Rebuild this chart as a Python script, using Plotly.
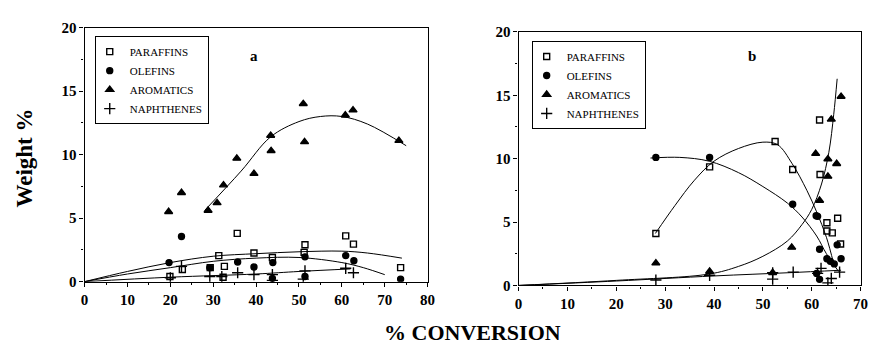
import plotly.graph_objects as go

# ---------------- Panel a data ----------------
a_par_x = [19.9, 22.8, 29.3, 31.3, 32.3, 32.6, 35.6, 39.5, 43.8, 51.2, 51.4, 60.9, 62.7, 73.7]
a_par_y = [0.4, 0.95, 1.1, 2.05, 0.35, 1.2, 3.8, 2.25, 1.9, 2.3, 2.9, 3.6, 2.95, 1.1]
a_ole_x = [19.7, 22.6, 29.2, 35.7, 39.5, 43.8, 43.9, 51.4, 51.4, 60.9, 62.8, 73.7]
a_ole_y = [1.5, 3.55, 1.1, 1.55, 1.15, 0.25, 1.5, 1.95, 0.4, 2.05, 1.65, 0.2]
a_aro_x = [19.6, 22.6, 28.8, 30.9, 32.4, 35.5, 39.5, 43.4, 43.5, 51.0, 51.3, 60.8, 62.6, 73.3]
a_aro_y = [5.5, 7.0, 5.6, 6.2, 7.6, 9.7, 8.5, 11.5, 10.3, 14.0, 11.0, 13.1, 13.5, 11.1]
a_nap_x = [20.0, 22.6, 29.2, 32.0, 35.7, 39.5, 43.8, 43.8, 51.0, 51.4, 60.9, 62.7]
a_nap_y = [0.3, 1.2, 0.4, 0.4, 0.7, 0.55, 0.55, 0.1, 0.2, 0.85, 1.05, 0.7]

a_par_fit_x = [0, 10, 20, 30, 40, 50, 60, 66, 74]
a_par_fit_y = [0, 0.8, 1.5, 2.0, 2.2, 2.35, 2.4, 2.25, 1.85]
a_ole_fit_x = [0, 10, 20, 30, 40, 50, 60, 65, 70]
a_ole_fit_y = [0, 0.6, 1.1, 1.6, 1.85, 1.9, 1.5, 1.1, 0.55]
a_aro_fit_x = [28, 36.5, 43.4, 50, 55, 60, 66, 75]
a_aro_fit_y = [5.6, 8.7, 11.4, 12.6, 13.0, 13.0, 12.4, 10.7]
a_nap_fit_x = [0, 20, 40, 50, 62]
a_nap_fit_y = [0, 0.35, 0.6, 0.8, 1.0]

# ---------------- Panel b data ----------------
b_par_x = [28.1, 39.1, 52.5, 56.1, 61.6, 61.7, 63.1, 63.1, 64.2, 65.3, 65.9]
b_par_y = [4.1, 9.35, 11.35, 9.15, 13.05, 8.75, 4.95, 4.3, 4.15, 5.3, 3.27]
b_ole_x = [28.1, 39.1, 56.1, 60.9, 61.2, 61.6, 61.0, 61.6, 63.1, 63.8, 64.6, 65.2, 66.0]
b_ole_y = [10.1, 10.1, 6.4, 5.5, 5.45, 2.85, 0.95, 0.48, 2.1, 1.9, 1.7, 3.2, 2.1]
b_aro_x = [28.1, 39.1, 52.0, 55.9, 60.8, 61.6, 63.3, 63.3, 64.0, 65.1, 66.0]
b_aro_y = [1.76, 1.1, 1.0, 3.0, 10.4, 6.7, 8.6, 9.97, 13.1, 9.6, 14.9]
b_nap_x = [28.1, 39.1, 52.0, 52.0, 56.2, 61.2, 61.9, 63.3, 64.0, 65.7]
b_nap_y = [0.43, 0.8, 1.0, 0.5, 1.05, 0.95, 1.35, 0.2, 0.55, 1.05]

b_par_fit_x = [28, 32, 36, 40, 45, 50, 53, 56, 59, 61, 63, 64.5]
b_par_fit_y = [4.1, 6.3, 8.3, 9.8, 10.8, 11.3, 11.1, 9.6, 7.5, 5.8, 3.8, 1.7]
b_ole_fit_x = [27, 33, 39, 45, 50, 55, 58, 61, 63, 65.5]
b_ole_fit_y = [10.05, 10.1, 9.8, 8.9, 7.8, 6.5, 5.4, 3.9, 2.5, 1.1]
b_aro_fit_x = [0, 20, 39, 45, 50, 55, 58, 60, 62, 63.5, 64.5, 65.2]
b_aro_fit_y = [0, 0.4, 0.9, 1.5, 2.3, 3.5, 4.8, 6.0, 8.0, 10.5, 13.5, 16.3]
b_nap_fit_x = [0, 20, 40, 55, 66]
b_nap_fit_y = [0, 0.35, 0.75, 1.0, 1.2]

names = ["PARAFFINS", "OLEFINS", "AROMATICS", "NAPHTHENES"]
y_ticks = [0, 5, 10, 15, 20]
a_x_ticks = [0, 10, 20, 30, 40, 50, 60, 70, 80]
b_x_ticks = [0, 10, 20, 30, 40, 50, 60, 70]

symbols = ["square-open", "circle", "triangle-up", "cross-thin-open"]
sizes = [6, 6, 7, 8]
FONT = "Liberation Serif"

fig = go.Figure()

def add_panel(xa, ya, legend, pts, fits):
    for i, (px, py) in enumerate(pts):
        fig.add_trace(go.Scatter(
            x=px, y=py, mode="markers", name=names[i],
            marker=dict(symbol=symbols[i], size=sizes[i], color="black",
                        line=dict(color="black", width=1.4)),
            xaxis=xa, yaxis=ya, legend=legend, showlegend=True))
    for fx, fy in fits:
        fig.add_trace(go.Scatter(
            x=fx, y=fy, mode="lines", line=dict(color="black", width=1, shape="spline"),
            xaxis=xa, yaxis=ya, showlegend=False, hoverinfo="skip"))

add_panel("x", "y", "legend",
          [(a_par_x, a_par_y), (a_ole_x, a_ole_y), (a_aro_x, a_aro_y), (a_nap_x, a_nap_y)],
          [(a_par_fit_x, a_par_fit_y), (a_ole_fit_x, a_ole_fit_y),
           (a_aro_fit_x, a_aro_fit_y), (a_nap_fit_x, a_nap_fit_y)])
add_panel("x2", "y2", "legend2",
          [(b_par_x, b_par_y), (b_ole_x, b_ole_y), (b_aro_x, b_aro_y), (b_nap_x, b_nap_y)],
          [(b_par_fit_x, b_par_fit_y), (b_ole_fit_x, b_ole_fit_y),
           (b_aro_fit_x, b_aro_fit_y), (b_nap_fit_x, b_nap_fit_y)])

W, H = 877, 351
tickfont = dict(family=FONT, size=15, color="black")

def bold(vals):
    return ["<b>%d</b>" % v for v in vals]

def xaxis(domain, rng, ticks, minor_dt, anchor):
    return dict(domain=domain, range=rng, tickvals=ticks, ticktext=bold(ticks),
                ticks="outside", ticklen=4,
                tickwidth=1, tickcolor="black", showline=True, linecolor="black",
                linewidth=1.3, mirror=True, showgrid=False, zeroline=False,
                tickfont=tickfont, anchor=anchor,
                minor=dict(ticks="outside", ticklen=2, dtick=minor_dt, tickcolor="black"))

def yaxis(domain, anchor):
    return dict(domain=domain, range=[0, 20], tickvals=y_ticks, ticktext=bold(y_ticks),
                ticks="outside", ticklen=4,
                tickwidth=1, tickcolor="black", showline=True, linecolor="black",
                linewidth=1.3, mirror=True, showgrid=False, zeroline=False,
                tickfont=tickfont, anchor=anchor,
                minor=dict(ticks="outside", ticklen=2, dtick=2.5, tickcolor="black"))

legend_common = dict(font=dict(family=FONT, size=11, color="black"),
                     bordercolor="black", borderwidth=1, bgcolor="white",
                     xanchor="left", yanchor="top", tracegroupgap=0,
                     itemwidth=30, indentation=-6)

fig.update_layout(
    width=W, height=H, margin=dict(l=0, r=0, t=0, b=0),
    paper_bgcolor="white", plot_bgcolor="white",
    font=dict(family=FONT, color="black"),
    xaxis=xaxis([81.7 / W, 429.5 / W], [0, 80], a_x_ticks, 5, "y"),
    yaxis=yaxis([64.3 / H, 330.5 / H], "x"),
    xaxis2=xaxis([521.7 / W, 868.5 / W], [0, 70], b_x_ticks, 5, "y2"),
    yaxis2=yaxis([60.3 / H, 326 / H], "x2"),
    legend=dict(x=92 / W, y=1 - 29.5 / H, **legend_common),
    legend2=dict(x=535 / W, y=1 - 34.5 / H, **legend_common),
    annotations=[
        dict(text="<b>a</b>", x=253 / W, y=1 - 50 / H, xref="paper", yref="paper",
             xanchor="center", yanchor="middle",
             showarrow=False, font=dict(family=FONT, size=15)),
        dict(text="<b>b</b>", x=758 / W, y=1 - 50 / H, xref="paper", yref="paper",
             xanchor="center", yanchor="middle",
             showarrow=False, font=dict(family=FONT, size=15)),
        dict(text="<b>Weight %</b>", x=21 / W, y=1 - 157 / H, xref="paper", yref="paper",
             xanchor="center", yanchor="middle",
             showarrow=False, textangle=-90, font=dict(family=FONT, size=23)),
        dict(text="<b>% CONVERSION</b>", x=475 / W, y=1 - 340 / H, xref="paper", yref="paper",
             xanchor="center", yanchor="middle",
             showarrow=False, font=dict(family=FONT, size=22)),
    ],
)

fig.write_html("out.html")
